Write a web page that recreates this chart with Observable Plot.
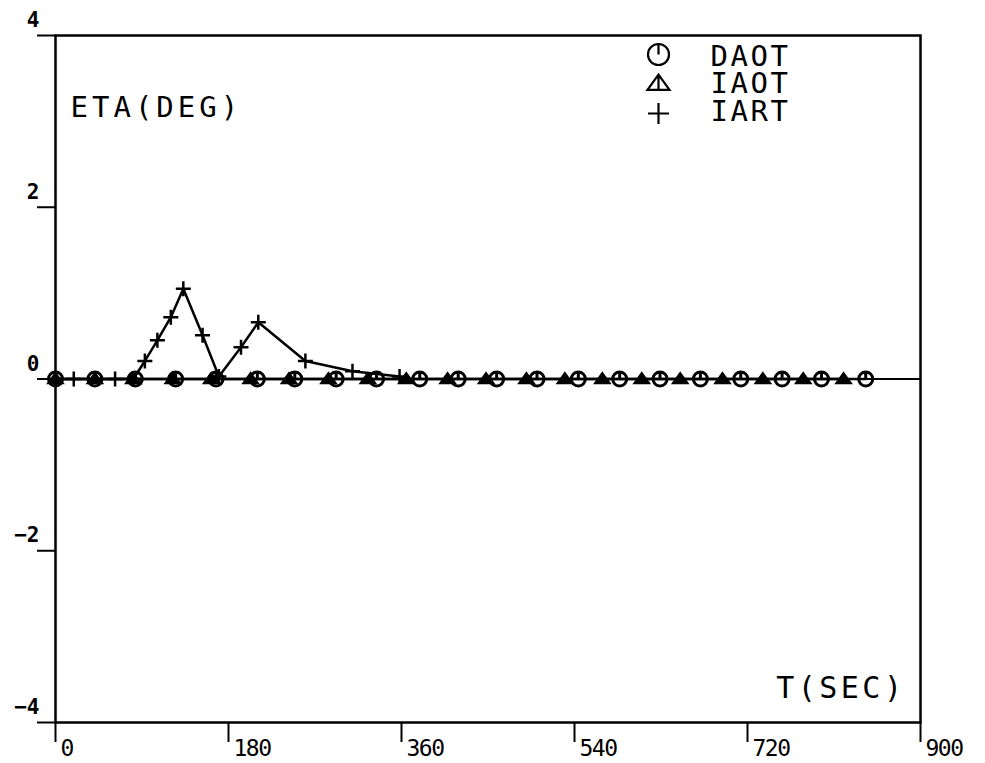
<!DOCTYPE html>
<html><head><meta charset="utf-8">
<script src="https://cdn.jsdelivr.net/npm/d3@7"></script>
<script src="https://cdn.jsdelivr.net/npm/@observablehq/plot@0.6"></script>
<style>body{margin:0;background:#fff}</style>
</head><body><div id="chart"></div>
<script>
// ---- data ----
const xTicks = [0, 180, 360, 540, 720, 900];
const yTicks = [-4, -2, 0, 2, 4];
const seriesNames = ["DAOT", "IAOT", "IART"];
const xLabel = "T(SEC)";
const yLabel = "ETA(DEG)";

const daotT = [0, 41, 83, 125, 167, 210, 249, 292, 334, 379, 419, 459, 501, 544, 587, 629, 671, 713, 756, 797, 843];
const daotV = [0, 0, 0, 0, 0, 0, 0, 0, 0, 0, 0, 0, 0, 0, 0, 0, 0, 0, 0, 0, 0];

const iaotT = [0, 41, 81, 122, 162, 203, 243, 284, 325, 365, 408, 448, 490, 530, 569, 610, 650, 694, 736, 778, 820];
const iaotV = [0, 0, 0, 0, 0, 0, 0, 0, 0, 0, 0, 0, 0, 0, 0, 0, 0, 0, 0, 0, 0];

const iartT = [0, 19, 62, 81, 93, 106, 120, 133, 153, 170, 193, 211, 260, 309, 358];
const iartV = [0, 0, 0, 0, 0.21, 0.45, 0.72, 1.05, 0.51, 0.03, 0.37, 0.66, 0.21, 0.09, 0.03];

// ---- build tables ----
const daot = daotT.map((t, i) => ({t, v: daotV[i]}));
const iaot = iaotT.map((t, i) => ({t, v: iaotV[i]}));
const iart = iartT.map((t, i) => ({t, v: iartV[i]}));

// ---- custom plotter symbols ----
const circleTick = {draw(c, size) {
  const r = Math.sqrt(size / Math.PI);
  c.moveTo(r, 0); c.arc(0, 0, r, 0, 2 * Math.PI);
  c.moveTo(0, -r); c.lineTo(0, 0);
}};
const triTick = {draw(c, size) {
  const r = Math.sqrt(size / Math.PI);
  c.moveTo(0, -r * 0.85); c.lineTo(r * 1.05, r * 0.6); c.lineTo(-r * 1.05, r * 0.6); c.closePath();
  c.moveTo(0, -r * 0.85); c.lineTo(0, r * 0.6);
}};
const plusSym = {draw(c, size) {
  const r = Math.sqrt(size / Math.PI);
  c.moveTo(-r, 0); c.lineTo(r, 0);
  c.moveTo(0, -r); c.lineTo(0, r);
}};
const symbols = [circleTick, triTick, plusSym];

const font = "DejaVu Sans Mono";

const legendMarks = [
  ...seriesNames.map((name, i) =>
    Plot.dot([name], {frameAnchor: "top-left", dx: 603, dy: [19, 48, 78][i], symbol: symbols[i],
      r: 10.5, stroke: "black", fill: "none", strokeWidth: 2.2})),
  Plot.text([seriesNames.join("\n")], {frameAnchor: "top-left", dx: 655, dy: 49, text: d => d,
    textAnchor: "start", lineAnchor: "middle", lineHeight: 0.95, fontSize: 29, fill: "black"})
];

const chart = Plot.plot({
  width: 985, height: 763,
  marginLeft: 55, marginRight: 65, marginTop: 35, marginBottom: 41,
  x: {domain: [0, 900]},
  y: {domain: [-4, 4]},
  style: {fontFamily: font, background: "white", color: "black"},
  marks: [
    Plot.frame({strokeWidth: 2.5}),
    Plot.ruleY([0], {strokeWidth: 2.2}),
    // x ticks (lines) and labels separately
    Plot.axisX({ticks: xTicks, anchor: "bottom", tickSize: 20, tickFormat: () => "", label: null, strokeWidth: 2}),
    Plot.axisX({ticks: xTicks, anchor: "bottom", tickSize: 0, tickPadding: 17, textAnchor: "start",
      dx: 5, fontSize: 23, label: null}),
    // y ticks (lines) and labels separately
    Plot.axisY({ticks: yTicks, anchor: "left", tickSize: 18, tickFormat: () => "", label: null, strokeWidth: 2}),
    Plot.axisY({ticks: yTicks, anchor: "left", tickSize: 0, tickPadding: 16, textAnchor: "end",
      dy: -15, fontSize: 21, fontWeight: "bold", label: null}),
    Plot.line(daot, {x: "t", y: "v", strokeWidth: 2.5}),
    Plot.line(iaot, {x: "t", y: "v", strokeWidth: 2.5}),
    Plot.line(iart, {x: "t", y: "v", strokeWidth: 2.5}),
    Plot.dot(daot, {x: "t", y: "v", symbol: circleTick, r: 7, stroke: "black", fill: "none", strokeWidth: 3}),
    Plot.dot(iaot, {x: "t", y: "v", symbol: triTick, r: 7.5, stroke: "black", fill: "black", strokeWidth: 1.5}),
    Plot.dot(iart, {x: "t", y: "v", symbol: plusSym, r: 7.5, stroke: "black", fill: "none", strokeWidth: 2.5}),
    Plot.text([yLabel], {frameAnchor: "top-left", dx: 15, dy: 72, text: d => d, textAnchor: "start",
      lineAnchor: "middle", fontSize: 29, fill: "black"}),
    Plot.text([xLabel], {frameAnchor: "bottom-right", dx: -15, dy: -34, text: d => d, textAnchor: "end",
      lineAnchor: "middle", fontSize: 30, fill: "black"}),
    ...legendMarks
  ]
});
document.getElementById("chart").appendChild(chart);
const svg = d3.select(chart);
svg.selectAll("text").each(function() {
  const s = this.textContent;
  if (s === yLabel) this.setAttribute("letter-spacing", 4);
  else if (s === xLabel) this.setAttribute("letter-spacing", 3.5);
  else if (s.includes(seriesNames[0])) this.setAttribute("letter-spacing", 2.5);
  else if (["180", "360", "540", "720", "900"].includes(s)) this.setAttribute("letter-spacing", -1.5);
});
</script>
</body></html>
